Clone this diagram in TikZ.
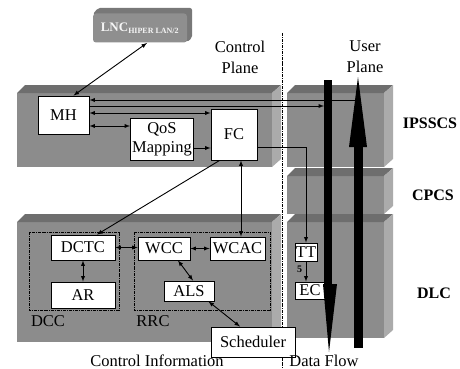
\documentclass[tikz,border=0pt]{standalone}
\usepackage{fontspec}
\setmainfont{Liberation Serif}
\usetikzlibrary{calc}
\definecolor{slabfront}{gray}{0.55}
\definecolor{slabtop}{gray}{0.43}
\definecolor{slabside}{gray}{0.67}
\definecolor{lncgray}{gray}{0.56}
\definecolor{lncdark}{gray}{0.47}
\tikzset{blockbox/.style={draw,fill=white,inner sep=0pt,line width=0.9pt,font=\fontsize{16.5}{18}\selectfont},
  layerlabel/.style={font=\fontsize{16}{18}\selectfont\bfseries},
  plainlabel/.style={font=\fontsize{16.5}{21}\selectfont,align=center}}
% front face corners x1 y1 x2 y2 of a layer slab
\newcommand{\drawslab}[4]{%
  \fill[slabfront] (#1,#2) rectangle (#3,#4);
  \fill[slabtop] (#1,#2) -- (#1+8,#2-8) -- (#3+9,#2-8) -- (#3,#2) -- cycle;
  \fill[slabside] (#3,#2) -- (#3+9,#2-8) -- (#3+9,#4-8) -- (#3,#4) -- cycle;}

\begin{document}
\begin{tikzpicture}[x=1pt,y=-1pt,>=latex,line width=0.9pt]
\useasboundingbox (0,0) rectangle (460,369);
% draw layer slabs
\drawslab{17}{93}{272}{167}
\drawslab{17}{222}{272}{342}
\drawslab{287}{93}{384}{167}
\drawslab{287}{176}{384}{214}
\drawslab{287}{222}{384}{338}
% draw plane separator
\draw[densely dashdotted,line width=0.8pt] (282,33) -- (282,369);
% draw LNC box
\fill[lncdark,rounded corners=2] (93,14) -- (98,8) -- (192,8) -- (192,38) -- (187,42) -- cycle;
\node[fill=lncgray,rounded corners=3,minimum width=94,minimum height=29,inner sep=0pt,
  text=white!92!gray,font=\fontsize{13}{14}\selectfont\bfseries] (lnc) at (140,28)
  {LNC\textsubscript{\fontsize{8}{9}\selectfont HIPER LAN/2}};
% draw plane and layer labels
\node[plainlabel] (ctrlplane) at (240,57) {Control\\Plane};
\node[plainlabel] (userplane) at (365,57) {User\\Plane};
\node[layerlabel] (ipsscs) at (430,123) {IPSSCS};
\node[layerlabel] (cpcs) at (433,195) {CPCS};
\node[layerlabel] (dlc) at (434,293) {DLC};
% draw DCC and RRC frames
\draw[densely dashdotted,line width=0.7pt] (29,232) rectangle (119,310);
\draw[densely dashdotted,line width=0.7pt] (134,232) rectangle (270,310);
\node[plainlabel] (dcc) at (48,321) {DCC};
\node[plainlabel] (rrc) at (153,321) {RRC};
% draw function blocks
\node[blockbox,minimum width=51,minimum height=38] (mh) at (63.5,115) {MH};
\node[blockbox,minimum width=63,minimum height=42,align=center,font=\fontsize{16.5}{19}\selectfont] (qos) at (162,139) {QoS\\Mapping};
\node[blockbox,minimum width=46,minimum height=51] (fc) at (234,134.5) {FC};
\node[blockbox,minimum width=64,minimum height=25] (dctc) at (83,247.5) {DCTC};
\node[blockbox,minimum width=64,minimum height=26] (ar) at (83,295) {AR};
\node[blockbox,minimum width=52,minimum height=23] (wcc) at (164,248.5) {WCC};
\node[blockbox,minimum width=55,minimum height=23] (wcac) at (237.5,248.5) {WCAC};
\node[blockbox,minimum width=50,minimum height=20] (als) at (189,291) {ALS};
\node[blockbox,minimum width=84,minimum height=30] (sched) at (253,342) {Scheduler};
\node[blockbox,minimum width=22,minimum height=18] (tt) at (306,252) {TT};
\node[blockbox,minimum width=30,minimum height=17] (ec) at (310,290.5) {EC};
% bottom captions
\node[plainlabel] (ctrlinfo) at (157,361) {Control Information};
\node[plainlabel] (dataflow) at (324,361) {Data Flow};
% draw connectors
\coordinate (upin) at (355,100);
\coordinate (downin) at (324,106);
\draw[<->] ([xshift=7]lnc.south) -- ([xshift=10]mh.north);
\draw[<-] (mh.east |- upin) -- (upin);
\draw[->] (mh.east |- downin) -- (downin);
\draw[<->] (mh.east |- 0,113) -- (fc.west |- 0,113);
\draw[<->] (mh.east |- 0,126) -- (qos.west |- 0,126);
\draw[->] (qos.east |- 0,148) -- (fc.west |- 0,148);
\draw[->] (fc.east |- 0,147) -| (tt.north);
\draw[<->] (fc.south -| 241,0) -- (wcac.north -| 241,0);
\draw[->] ([xshift=9]fc.south west) -- ([xshift=14]dctc.north);
\draw[<->] (dctc.south) -- (ar.north);
\draw[<->] (dctc.east) -- (wcc.west |- dctc.east);
\draw[<->] (wcc.east) -- (wcac.west);
\draw[<->] ([xshift=14]wcc.south) -- ([xshift=4]als.north);
\draw[<->] ([xshift=-6]als.south east) -- ([xshift=-13]sched.north);
\draw[->] (tt.south) -- (tt.south |- ec.north) node[pos=0.4,left=0pt,font=\fontsize{10}{11}\selectfont\bfseries] {5};
% draw data flow arrows
\fill (324,80) rectangle (332,285);
\fill (323,284) -- (337,284) -- (329,352) -- cycle;
\fill (354,348) rectangle (363,146);
\fill (349,147) -- (367,147) -- (358,77) -- cycle;
\end{tikzpicture}
\end{document}
